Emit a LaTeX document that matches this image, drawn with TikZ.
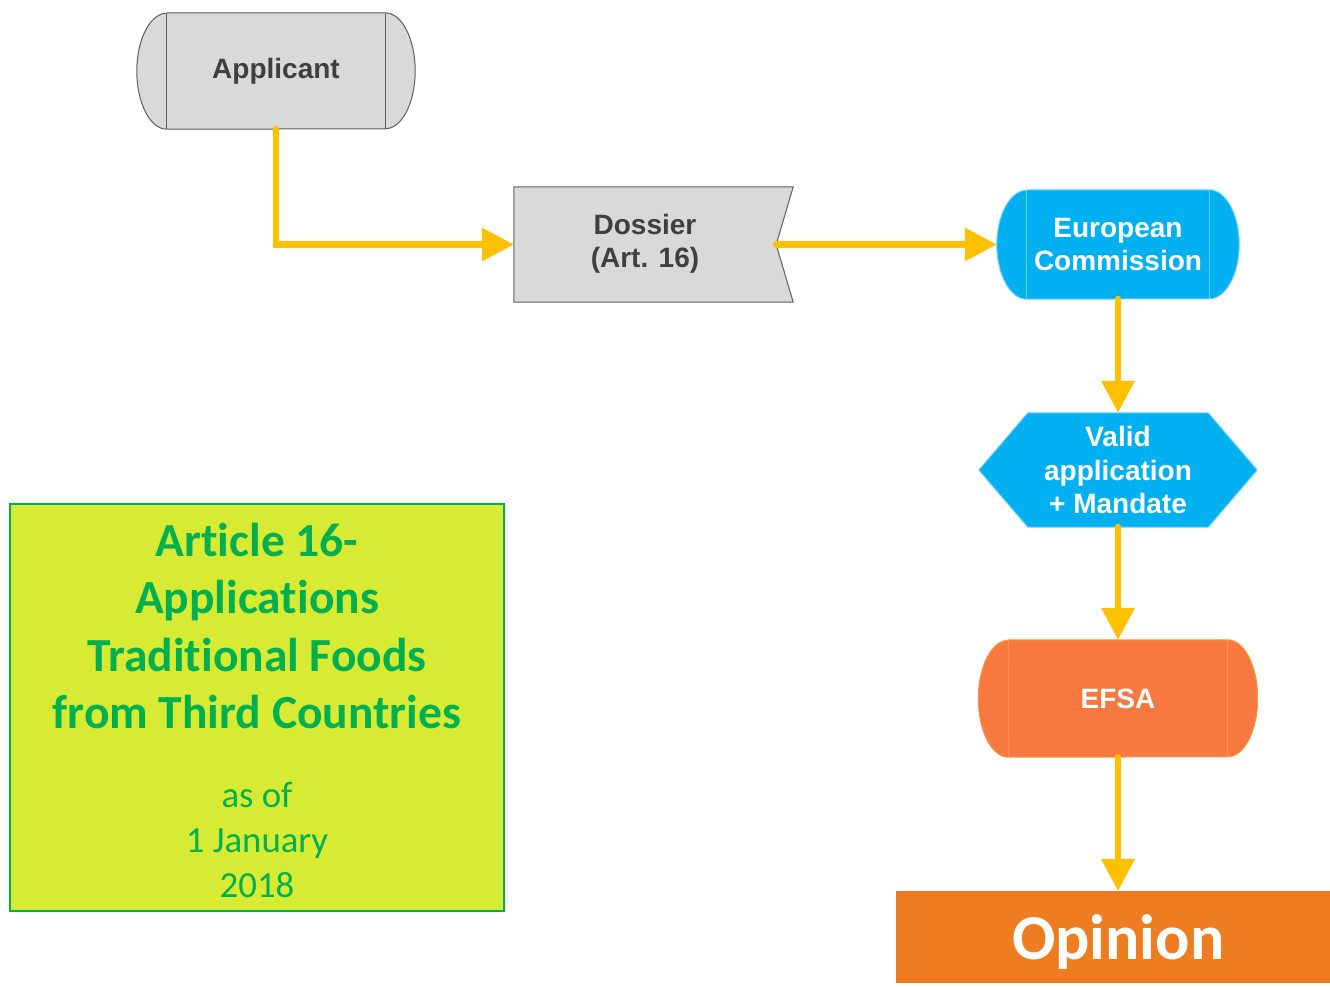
\documentclass[tikz,border=0pt]{standalone}
\usepackage{fontspec}
\setmainfont{Liberation Sans}
\newfontfamily\calib[Ligatures={NoCommon}]{Carlito}
\usetikzlibrary{arrows.meta,backgrounds}
\definecolor{arrowyellow}{HTML}{FFC000}
\definecolor{grayfill}{HTML}{D9D9D9}
\definecolor{graydraw}{HTML}{5F5F5F}
\definecolor{graytext}{HTML}{3F3F3F}
\definecolor{ecblue}{HTML}{00B0F0}
\definecolor{eclight}{HTML}{6FD0F5}
\definecolor{efsaor}{HTML}{F8793F}
\definecolor{efsaline}{HTML}{F79646}
\definecolor{opinor}{HTML}{EE7D22}
\definecolor{gfill}{HTML}{D8EB34}
\definecolor{gtext}{HTML}{00B050}
\newcommand\capsuleshape[6]{%
  \path[fill=#4,draw=#5,line width=1pt]
    ([xshift=#2]#1.north west) -- ([xshift=-#2]#1.north east)
    arc[start angle=90,end angle=-90,x radius=#2,y radius=#3]
    -- ([xshift=#2]#1.south west)
    arc[start angle=270,end angle=90,x radius=#2,y radius=#3] -- cycle;
  \draw[#6,line width=1pt] ([xshift=#2]#1.north west) -- ([xshift=#2]#1.south west);
  \draw[#6,line width=1pt] ([xshift=-#2]#1.north east) -- ([xshift=-#2]#1.south east);
}
\tikzset{
  lbl/.style={font=\bfseries\fontsize{28}{33.5}\selectfont, align=center, inner sep=0pt},
  flow/.style={draw=arrowyellow, line width=6.8pt, line cap=round,
    -{Triangle[width=32pt,length=32pt]}},
}
\begin{document}
\begin{tikzpicture}[x=1pt,y=1pt]
\useasboundingbox (0,0) rectangle (1330,-986);

% nodes
\node[lbl, text=graytext, minimum width=278pt, minimum height=116pt] (app) at (276,-71) {Applicant};
\node[lbl, text=graytext, minimum width=262pt, minimum height=115pt] (dos) at (645,-244.5) {\raisebox{-2pt}{\begin{tabular}{@{}c@{}}Dossier\\[0pt](Art. 16)\end{tabular}}};
\node[lbl, text=white, minimum width=242pt, minimum height=109pt] (ec) at (1118,-244.5) {European\\Commission};
\node[lbl, text=white, minimum width=278pt, minimum height=114pt] (val) at (1118,-470) {Valid\\application\\+ Mandate};
\node[lbl, text=white, minimum width=279pt, minimum height=117pt] (efsa) at (1118,-698.5) {EFSA};
\node[fill=opinor, minimum width=444pt, minimum height=92pt, anchor=north west, inner sep=0pt,
      text depth=0pt, font=\calib\bfseries\fontsize{64}{70}\selectfont, text=white] (op) at (896,-891) {Opinion};

\node[draw=gtext, line width=2pt, fill=gfill, minimum width=494pt, minimum height=407pt] (gbox) at (257,-707.5) {};
\node[font=\calib\bfseries\fontsize{47.5}{57.2}\selectfont, text=gtext, align=center, inner sep=0pt]
  (gtitle) at (257,-626) {Article 16-\\Applications\\Traditional Foods\\from Third Countries};
\node[font=\calib\fontsize{36.8}{45}\selectfont, text=gtext, align=center, inner sep=0pt]
  (gdate) at (257,-840) {as of\\1 January\\2018};

% shapes behind the labels
\begin{pgfonlayer}{background}
  \capsuleshape{app}{30pt}{58pt}{grayfill}{graydraw}{graydraw}
  \path[fill=grayfill, draw=graydraw, line width=1pt]
    (dos.north west) -- ([xshift=17pt]dos.north east) -- (dos.east)
    -- ([xshift=17pt]dos.south east) -- (dos.south west) -- cycle;
  \capsuleshape{ec}{30pt}{54.5pt}{ecblue}{eclight}{eclight}
  \path[fill=ecblue, draw=eclight, line width=1pt]
    (val.west) -- ([xshift=49pt]val.north west) -- ([xshift=-49pt]val.north east)
    -- (val.east) -- ([xshift=-49pt]val.south east) -- ([xshift=49pt]val.south west) -- cycle;
  \capsuleshape{efsa}{30pt}{58.5pt}{efsaor}{efsaline}{efsaline}
\end{pgfonlayer}

% connectors
\draw[flow] (app.south) |- (dos.west);
\draw[flow] (dos.east) -- (ec.west);
\draw[flow] (ec.south) -- (val.north);
\draw[flow] (val.south) -- (efsa.north);
\draw[flow] (efsa.south) -- (efsa.south |- op.north);
\end{tikzpicture}
\end{document}
